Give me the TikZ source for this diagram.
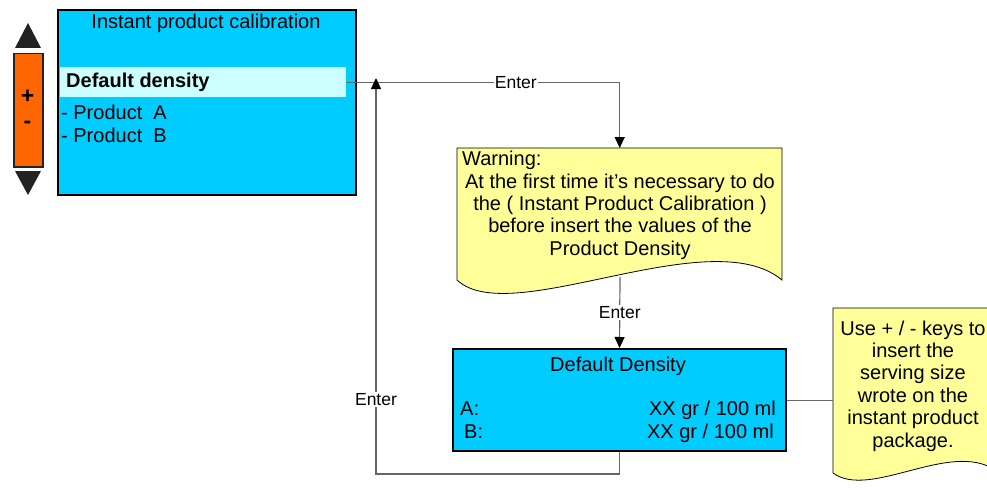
\documentclass[tikz,border=0pt]{standalone}
\usepackage{fontspec}
\setmainfont{Liberation Sans}
\usetikzlibrary{arrows.meta,positioning}
\definecolor{panelcyan}{HTML}{00CCFF}
\definecolor{selcyan}{HTML}{CCFFFF}
\definecolor{noteyellow}{HTML}{FFFF99}
\definecolor{keyorange}{HTML}{FF6600}
\definecolor{keydark}{HTML}{222222}
\definecolor{wiregray}{HTML}{666666}
\begin{document}
\begin{tikzpicture}[x=1pt,y=-1pt,every node/.style={font=\fontsize{20}{22.4}\selectfont,inner sep=0pt},panel/.style={draw=black,line width=2pt,fill=panelcyan},doc/.style={draw=black,line width=0.8pt,fill=noteyellow},wire/.style={draw=wiregray,line width=1.2pt},arr/.style={wire,-{Triangle[width=10pt,length=11pt,color=black]}},lbl/.style={fill=white,inner sep=1pt,font=\fontsize{17.5}{20}\selectfont}]
\useasboundingbox (0,0) rectangle (987,487);
% menu panel and keys
\node[panel,minimum width=298pt,minimum height=185pt,anchor=north west] (menu) at (57,9) {};
\node[anchor=base] (menutitle) at (206,29) {Instant product calibration};
\node[fill=selcyan,minimum width=286pt,minimum height=30pt,anchor=north west] (sel) at (60,67) {};
\node[anchor=base west] (seltext) at (66,88) {\bfseries Default density};
\node[anchor=base west] (proda) at (61,119) {- Product\ \ A};
\node[anchor=base west] (prodb) at (61,142) {- Product\ \ B};
\fill[keydark] (15,48) -- (41,48) -- (28,23) -- cycle;
\node[draw=keydark,line width=1.5pt,fill=keyorange,minimum width=29pt,minimum height=113pt,anchor=north west] (keys) at (13,53) {};
\node[font=\fontsize{23}{25}\selectfont\bfseries] (plus) at (27.5,97) {+};
\node[font=\fontsize{23}{25}\selectfont\bfseries] (minus) at (27.5,125) {-};
\fill[keydark] (15,171) -- (41,171) -- (28,195) -- cycle;
% warning note
\path[doc] (457,148) -- (782,148) -- (782,280) .. controls (710,220) and (510,330) .. (457,280) -- cycle;
\node[minimum width=325pt,minimum height=132pt,anchor=north west] (warn) at (457,148) {};
\coordinate (warnbot) at (620,277);
\node[anchor=base west] (warnhead) at (462,165) {Warning:};
\node[anchor=north,align=center] (warntext) at (620,173.5) {At the first time it’s necessary to do\\the ( Instant Product Calibration )\\before insert the values of the\\Product Density};
% density panel
\node[panel,minimum width=333pt,minimum height=102pt,anchor=north west] (dens) at (452,348) {};
\node[anchor=base] (denstitle) at (618,371) {Default Density};
\node[anchor=base west] (densa) at (460,415) {A:};
\node[anchor=base east] (valuea) at (776,415) {XX gr / 100 ml};
\node[anchor=base west] (densb) at (464,438) {B:};
\node[anchor=base east] (valueb) at (774,438) {XX gr / 100 ml};
% side note
\path[doc] (833,308) -- (995,308) -- (995,470) .. controls (950,440) and (870,500) .. (833,473) -- cycle;
\node[minimum width=162pt,minimum height=162pt,anchor=north west] (note) at (833,308) {};
\node[anchor=north,align=center] (notetext) at (913,320.5) {Use + / - keys to\\insert the\\serving size\\wrote on the\\instant product\\package.};
% connectors
\coordinate (loopend) at (376,78);
\draw[arr] (sel.east) -| node[lbl,pos=0.31]{Enter} (warn.north);
\draw[arr] (warnbot) -- node[lbl]{Enter} (dens.north);
\draw[arr] (dens.south) -- ++(0,22) -| node[lbl,pos=0.594]{Enter} (loopend);
\draw[wire,line width=0.8pt] (dens.east) -- (dens.east -| note.west);
\end{tikzpicture}
\end{document}
